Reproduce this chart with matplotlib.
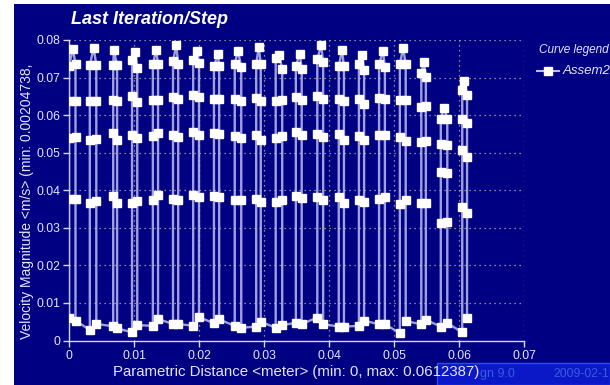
import numpy as np
import matplotlib
matplotlib.use("Agg")
import matplotlib.pyplot as plt
from matplotlib.patches import Rectangle

plt.rcParams['font.family'] = ['Liberation Sans', 'DejaVu Sans']

NAVY = '#000082'
TXT = '#e4e4ff'
LINE = '#bcbcf0'

# x positions of each tooth (bottom-left, apex, bottom-right), metres
bot_l_x = [0.0000, 0.0032, 0.0068, 0.0097, 0.0129, 0.0160, 0.0191, 0.0223, 0.0255, 0.0288,
           0.0318, 0.0349, 0.0382, 0.0415, 0.0446, 0.0477, 0.0509, 0.0542, 0.0572, 0.0605]
top_x = [0.0006, 0.0038, 0.0069, 0.0102, 0.0134, 0.0165, 0.0197, 0.0229, 0.0260, 0.0292,
         0.0323, 0.0355, 0.0388, 0.0420, 0.0451, 0.0483, 0.0514, 0.0546, 0.0577, 0.0608]
bot_r_x = [0.0010, 0.0042, 0.0074, 0.0105, 0.0137, 0.0168, 0.0200, 0.0231, 0.0265, 0.0295,
           0.0328, 0.0358, 0.0391, 0.0423, 0.0454, 0.0486, 0.0518, 0.0549, 0.0582, 0.0612387]

# velocity values (m/s)
bot_l = [0.0059, 0.0028, 0.0038, 0.0022, 0.0039, 0.0044, 0.0039, 0.0046, 0.0039, 0.0037,
         0.0034, 0.0047, 0.0061, 0.0037, 0.0039, 0.0043, 0.0020, 0.0043, 0.0037, 0.0022]
up_38 = [0.0378, 0.0367, 0.0385, 0.0367, 0.0375, 0.0376, 0.0387, 0.0385, 0.0375, 0.0378,
         0.0369, 0.0385, 0.0382, 0.0381, 0.0374, 0.0376, 0.0363, 0.0367, 0.0312, 0.0356]
up_54 = [0.0540, 0.0535, 0.0553, 0.0548, 0.0545, 0.0547, 0.0555, 0.0553, 0.0545, 0.0547,
         0.0538, 0.0555, 0.0550, 0.0550, 0.0545, 0.0547, 0.0543, 0.0529, 0.0449, 0.0507]
up_64 = [0.0638, 0.0638, 0.0640, 0.0650, 0.0640, 0.0648, 0.0653, 0.0644, 0.0644, 0.0646,
         0.0638, 0.0647, 0.0651, 0.0644, 0.0644, 0.0646, 0.0640, 0.0622, 0.0524, 0.0591]
up_73 = [0.0730, 0.0733, 0.0733, 0.0746, 0.0735, 0.0743, 0.0746, 0.0730, 0.0737, 0.0737,
         0.0751, 0.0730, 0.0749, 0.0730, 0.0735, 0.0735, 0.0735, 0.0713, 0.0591, 0.0666]
tops = [0.0777, 0.0779, 0.0773, 0.0768, 0.0773, 0.0786, 0.0770, 0.0764, 0.0771, 0.0781,
        0.0761, 0.0764, 0.0786, 0.0773, 0.0759, 0.0770, 0.0779, 0.0742, 0.0619, 0.0691]
dn_73 = [0.0735, 0.0733, 0.0733, 0.0726, 0.0735, 0.0737, 0.0739, 0.0730, 0.0727, 0.0737,
         0.0724, 0.0724, 0.0741, 0.0730, 0.0719, 0.0729, 0.0735, 0.0702, 0.0591, 0.0653]
dn_64 = [0.0638, 0.0638, 0.0638, 0.0635, 0.0640, 0.0642, 0.0647, 0.0644, 0.0638, 0.0638,
         0.0641, 0.0641, 0.0642, 0.0638, 0.0629, 0.0642, 0.0640, 0.0624, 0.0520, 0.0578]
dn_54 = [0.0542, 0.0537, 0.0533, 0.0538, 0.0553, 0.0541, 0.0548, 0.0550, 0.0540, 0.0533,
         0.0545, 0.0546, 0.0543, 0.0535, 0.0535, 0.0546, 0.0532, 0.0531, 0.0445, 0.0489]
dn_38 = [0.0378, 0.0372, 0.0367, 0.0372, 0.0387, 0.0373, 0.0382, 0.0383, 0.0375, 0.0369,
         0.0375, 0.0380, 0.0373, 0.0367, 0.0369, 0.0382, 0.0375, 0.0367, 0.0316, 0.0340]
bot_r = [0.0053, 0.0044, 0.0032, 0.0041, 0.0057, 0.0044, 0.0062, 0.0056, 0.0034, 0.0050,
         0.0041, 0.0044, 0.0044, 0.0037, 0.0053, 0.0043, 0.0052, 0.0055, 0.0046, 0.0059]

xticks = [0, 0.01, 0.02, 0.03, 0.04, 0.05, 0.06, 0.07]
xticklabels = ['0', '0.01', '0.02', '0.03', '0.04', '0.05', '0.06', '0.07']
yticks = [0, 0.01, 0.02, 0.03, 0.04, 0.05, 0.06, 0.07, 0.08]
yticklabels = ['0', '0.01', '0.02', '0.03', '0.04', '0.05', '0.06', '0.07', '0.08']

# build the path: up the left strand, over the apex, down the right strand
xs, ys = [], []
for i in range(len(tops)):
    xs += [bot_l_x[i]] * 5 + [top_x[i]] + [bot_r_x[i]] * 5
    ys += [bot_l[i], up_38[i], up_54[i], up_64[i], up_73[i], tops[i],
           dn_73[i], dn_64[i], dn_54[i], dn_38[i], bot_r[i]]

fig = plt.figure(figsize=(6.1, 3.85), dpi=100)
fig.patch.set_facecolor('white')
fig.patches.append(Rectangle((14 / 610, 0), 1 - 14 / 610, 1 - 4 / 385,
                             transform=fig.transFigure, facecolor=NAVY,
                             edgecolor='none', zorder=-10))

ax = fig.add_axes([69 / 610, 1 - 340.5 / 385, 455 / 610, 300.5 / 385])
ax.set_facecolor('none')
ax.plot(xs, ys, '-', color=LINE, lw=1.7, alpha=0.85, zorder=3)
ax.plot(xs, ys, 's', color='white', ms=5.8, mec='white', zorder=4)

ax.set_xlim(0, 0.07)
ax.set_ylim(0, 0.08)
ax.set_xticks(xticks)
ax.set_xticklabels(xticklabels)
ax.set_yticks(yticks)
ax.set_yticklabels(yticklabels)
ax.tick_params(colors='#d8d8f4', labelcolor=TXT, labelsize=8.8, length=4, width=1, pad=2.5)

for s in ['top', 'right']:
    ax.spines[s].set_visible(False)
for s in ['left', 'bottom']:
    ax.spines[s].set_color('#d8d8f4')
    ax.spines[s].set_linewidth(1)

# dotted grid, including the far edges
for xv in xticks[1:]:
    ax.axvline(xv, color='#b4b4a0', lw=0.9, ls=(0, (1, 3)), zorder=1)
for yv in yticks[1:]:
    ax.axhline(yv, color='#b4b4a0', lw=0.9, ls=(0, (1, 3)), zorder=1)

fig.text(71 / 610, 1 - 20 / 385, 'Last Iteration/Step', color='white',
         fontsize=13, fontweight='bold', style='italic', ha='left', va='center')

fig.text(27 / 610, 1 - 339 / 385, 'Velocity Magnitude <m/s> (min: 0.00204738,',
         color=TXT, fontsize=10, rotation=90, ha='center', va='bottom')

# version stamp box at lower right
fig.patches.append(Rectangle((437 / 610, 0.0), 1 - 437 / 610, 22 / 385,
                             transform=fig.transFigure, facecolor='#0a18c8',
                             edgecolor='#2a48ff', lw=1, zorder=-5))
fig.text(480 / 610, 1 - 374 / 385, 'gn 9.0', color='#3a5ae0', fontsize=9,
         ha='left', va='center')
fig.text(553 / 610, 1 - 374 / 385, '2009-02-1', color='#3a5ae0', fontsize=8.8,
         ha='left', va='center')

fig.text(113 / 610, 1 - 372 / 385, 'Parametric Distance <meter> (min: 0, max: 0.0612387)',
         color=TXT, fontsize=10.8, ha='left', va='center')

# curve legend
fig.text(539 / 610, 1 - 50 / 385, 'Curve legend', color=TXT, fontsize=8.5,
         style='italic', ha='left', va='center')
fig.lines.append(plt.Line2D([537 / 610, 559 / 610], [1 - 71 / 385, 1 - 71 / 385],
                            transform=fig.transFigure, color=LINE, lw=1.5))
fig.lines.append(plt.Line2D([548 / 610], [1 - 71 / 385], transform=fig.transFigure,
                            marker='s', color='white', ms=5.8))
fig.text(563 / 610, 1 - 71 / 385, 'Assem2', color=TXT, fontsize=9.5,
         style='italic', ha='left', va='center')

fig.savefig('out.png', dpi=100, facecolor=fig.get_facecolor())
